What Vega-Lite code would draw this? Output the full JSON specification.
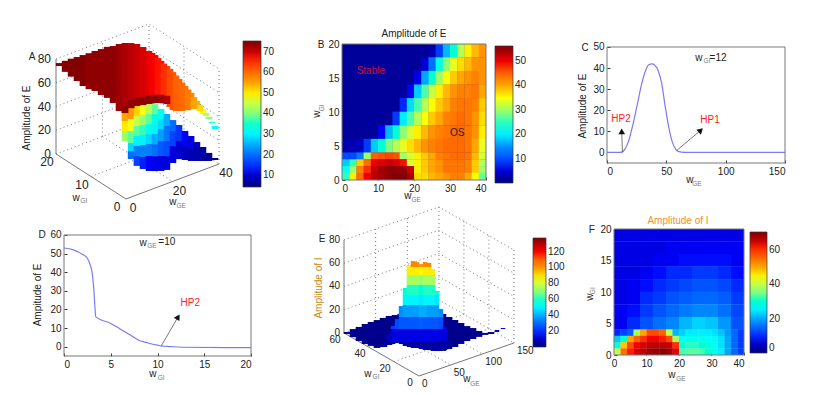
{"$schema":"https://vega.github.io/schema/vega-lite/v6.json","padding":{"left":21,"top":22,"right":0,"bottom":0},"background":"white","bounds":"flush","align":"each","columns":3,"spacing":{"row":49,"column":91},"resolve":{"scale":{"color":"independent"},"legend":{"color":"independent"}},
"config":{"font":"Liberation Sans","view":{"stroke":null},"axis":{"grid":false,"domain":false,"title":null,"tickColor":"#333","tickSize":-3,"labelColor":"#222","labelFontSize":10,"labelPadding":6},"legend":{"labelFontSize":10,"labelOffset":3,"labelColor":"#222","gradientStrokeColor":"#333","gradientStrokeWidth":0.7,"labelOverlap":false,"title":null,"orient":"none","direction":"vertical"}},
"concat":[
{"width":187,"height":136,"data":{"values":[
{"s":1,"g":0,"i":20,"z":0},{"s":1,"g":40,"i":20,"z":0},{"s":1,"g":40,"i":0,"z":0},
{"s":2,"g":0,"i":20,"z":20},{"s":2,"g":40,"i":20,"z":20},{"s":2,"g":40,"i":0,"z":20},
{"s":3,"g":0,"i":20,"z":40},{"s":3,"g":40,"i":20,"z":40},{"s":3,"g":40,"i":0,"z":40},
{"s":4,"g":0,"i":20,"z":60},{"s":4,"g":40,"i":20,"z":60},{"s":4,"g":40,"i":0,"z":60},
{"s":5,"g":0,"i":20,"z":80},{"s":5,"g":40,"i":20,"z":80},{"s":5,"g":40,"i":0,"z":80},
{"s":6,"g":40,"i":20,"z":0},{"s":6,"g":40,"i":20,"z":80},{"s":7,"g":40,"i":0,"z":0},{"s":7,"g":40,"i":0,"z":80},{"s":8,"g":20,"i":20,"z":0},{"s":8,"g":20,"i":20,"z":80},{"s":9,"g":40,"i":10,"z":0},{"s":9,"g":40,"i":10,"z":80},{"s":10,"g":20,"i":0,"z":0},{"s":10,"g":20,"i":20,"z":0},{"s":11,"g":0,"i":10,"z":0},{"s":11,"g":40,"i":10,"z":0},
{"a":1,"g":0,"i":20,"z":0},{"a":1,"g":0,"i":0,"z":0},{"a":1,"g":40,"i":0,"z":0},{"a":2,"g":0,"i":20,"z":0},{"a":2,"g":0,"i":20,"z":80},
{"g":0,"i":0.3,"z":71.8,"z2":65.1,"v":55},{"g":0,"i":0.3,"z":65.1,"z2":56.7,"v":50},{"g":0,"i":0.3,"z":56.7,"z2":48.2,"v":42},
{"g":2.2,"i":0,"z":74.9,"z2":65.7,"v":56},{"g":2.2,"i":0,"z":65.7,"z2":55.6,"v":48},{"g":2.2,"i":0,"z":55.6,"z2":45.5,"v":38},{"g":2.2,"i":0,"z":45.5,"z2":38.7,"v":28},{"g":2.2,"i":0,"z":38.7,"z2":32,"v":20},
{"g":4.7,"i":0,"z":74.9,"z2":66.5,"v":52},{"g":4.7,"i":0,"z":66.5,"z2":58.1,"v":45},{"g":4.7,"i":0,"z":58.1,"z2":49.7,"v":38},{"g":4.7,"i":0,"z":49.7,"z2":41.3,"v":30},{"g":4.7,"i":0,"z":41.3,"z2":32.8,"v":22},{"g":4.7,"i":0,"z":32.8,"z2":24.4,"v":16},
{"g":7.3,"i":0,"z":73.8,"z2":65.3,"v":48},{"g":7.3,"i":0,"z":65.3,"z2":56.9,"v":42},{"g":7.3,"i":0,"z":56.9,"z2":48.5,"v":36},{"g":7.3,"i":0,"z":48.5,"z2":40.1,"v":30},{"g":7.3,"i":0,"z":40.1,"z2":30,"v":22},{"g":7.3,"i":0,"z":30,"z2":19.9,"v":14},
{"g":9.9,"i":0,"z":72.7,"z2":64.2,"v":44},{"g":9.9,"i":0,"z":64.2,"z2":55.8,"v":38},{"g":9.9,"i":0,"z":55.8,"z2":47.4,"v":33},{"g":9.9,"i":0,"z":47.4,"z2":39,"v":28},{"g":9.9,"i":0,"z":39,"z2":28.9,"v":22},{"g":9.9,"i":0,"z":28.9,"z2":16.3,"v":13},
{"g":12.5,"i":0,"z":70.7,"z2":62.3,"v":38},{"g":12.5,"i":0,"z":62.3,"z2":53.9,"v":34},{"g":12.5,"i":0,"z":53.9,"z2":45.5,"v":30},{"g":12.5,"i":0,"z":45.5,"z2":37,"v":25},{"g":12.5,"i":0,"z":37,"z2":26.9,"v":20},{"g":12.5,"i":0,"z":26.9,"z2":14.3,"v":12},
{"g":15.1,"i":0,"z":64.7,"z2":56.2,"v":32},{"g":15.1,"i":0,"z":56.2,"z2":47.8,"v":28},{"g":15.1,"i":0,"z":47.8,"z2":37.7,"v":24},{"g":15.1,"i":0,"z":37.7,"z2":25.1,"v":18},{"g":15.1,"i":0,"z":25.1,"z2":12.5,"v":11},
{"g":17.6,"i":0,"z":58.6,"z2":48.5,"v":25},{"g":17.6,"i":0,"z":48.5,"z2":35.9,"v":21},{"g":17.6,"i":0,"z":35.9,"z2":23.2,"v":17},{"g":17.6,"i":0,"z":23.2,"z2":11.5,"v":11},
{"g":20.2,"i":0,"z":51.6,"z2":42.4,"v":20},{"g":20.2,"i":0,"z":42.4,"z2":29.7,"v":16},{"g":20.2,"i":0,"z":29.7,"z2":15.4,"v":11},
{"g":22.8,"i":0,"z":45.5,"z2":32,"v":15},{"g":22.8,"i":0,"z":32,"z2":16.8,"v":10},
{"g":25.4,"i":0,"z":38.6,"z2":25.9,"v":13},{"g":25.4,"i":0,"z":25.9,"z2":14.1,"v":9},
{"g":28,"i":0,"z":32.4,"z2":21.5,"v":11},{"g":28,"i":0,"z":21.5,"z2":11.4,"v":8},
{"g":30.5,"i":0,"z":25.5,"z2":9.5,"v":8},{"g":33.1,"i":0,"z":19.4,"z2":7.6,"v":7},{"g":35.7,"i":0,"z":12.5,"z2":5.7,"v":6},{"g":38.3,"i":0,"z":6.3,"z2":4.6,"v":5},
{"g":0,"i":19.1,"z":78.3,"z2":75.8,"v":75},{"g":0,"i":17.4,"z":83.4,"z2":74.1,"v":75},{"g":0,"i":15.7,"z":88.4,"z2":73.3,"v":75},{"g":0,"i":14,"z":93,"z2":72.8,"v":75},{"g":0,"i":12.3,"z":97.9,"z2":71.8,"v":75},{"g":0,"i":10.6,"z":102.7,"z2":72.4,"v":74},{"g":0,"i":8.9,"z":107.8,"z2":74.1,"v":74},{"g":0,"i":7.1,"z":112.8,"z2":74.1,"v":74},{"g":0,"i":5.4,"z":117.9,"z2":74.9,"v":74},{"g":0,"i":3.7,"z":121.8,"z2":73.8,"v":74},{"g":0,"i":2,"z":126.7,"z2":70.3,"v":73},{"g":0,"i":0.3,"z":130.8,"z2":71.8,"v":72},
{"g":2.2,"i":0,"z":129.7,"z2":74.9,"v":71},{"g":4.7,"i":0,"z":127.1,"z2":74.9,"v":70},{"g":7.3,"i":0,"z":122.6,"z2":73.8,"v":69},{"g":9.9,"i":0,"z":117.3,"z2":72.7,"v":68},{"g":12.5,"i":0,"z":112,"z2":71.6,"v":67},{"g":15.1,"i":0,"z":105.1,"z2":69.7,"v":66},{"g":17.6,"i":0,"z":99,"z2":67,"v":64},{"g":20.2,"i":0,"z":92,"z2":60,"v":62},{"g":22.8,"i":0,"z":84.2,"z2":57.3,"v":61},{"g":25.4,"i":0,"z":76.5,"z2":56.2,"v":59},{"g":28,"i":0,"z":68.6,"z2":55.1,"v":57},{"g":30.5,"i":0,"z":60,"z2":53.3,"v":54},{"g":33.1,"i":0,"z":51.4,"z2":47.2,"v":48},{"g":35.7,"i":0,"z":42.8,"z2":41.1,"v":40},{"g":38.3,"i":0,"z":33.3,"z2":30.7,"v":31},
{"g":11.2,"i":0,"z":114.7,"z2":72.2,"v":67},{"g":13.8,"i":0,"z":108.5,"z2":70.6,"v":66},{"g":16.3,"i":0,"z":102,"z2":68.4,"v":65},
{"g":18.9,"i":0,"z":95.6,"z2":63.6,"v":63},{"g":21.5,"i":0,"z":88.2,"z2":58.3,"v":61},{"g":24.1,"i":0,"z":80.3,"z2":56.3,"v":60},{"g":26.7,"i":0,"z":72.5,"z2":55.1,"v":58},{"g":29.2,"i":0,"z":64.3,"z2":54.2,"v":55},{"g":31.8,"i":0,"z":55.7,"z2":50.5,"v":51},{"g":34.4,"i":0,"z":47.1,"z2":44.5,"v":44},{"g":37,"i":0,"z":37.6,"z2":36.7,"v":35},
{"g":0,"i":0.3,"z":78.8,"z2":71.8,"v":74},{"g":2.2,"i":0,"z":81.9,"z2":74.9,"v":74},{"g":4.7,"i":0,"z":81.9,"z2":74.9,"v":74},{"g":7.3,"i":0,"z":80.8,"z2":73.8,"v":74},{"g":9.9,"i":0,"z":79.7,"z2":72.7,"v":74},{"g":12.5,"i":0,"z":78.6,"z2":71.6,"v":74},{"g":15.1,"i":0,"z":76.7,"z2":69.7,"v":73},{"g":17.6,"i":0,"z":74,"z2":67,"v":72},
{"k":"z","g":0,"i":20,"z":0,"t":"0"},{"k":"z","g":0,"i":20,"z":20,"t":"20"},{"k":"z","g":0,"i":20,"z":40,"t":"40"},{"k":"z","g":0,"i":20,"z":60,"t":"60"},{"k":"z","g":0,"i":20,"z":80,"t":"80"},
{"k":"j","g":0,"i":0,"z":0,"t":"0"},{"k":"j","g":0,"i":10,"z":0,"t":"10"},{"k":"j","g":0,"i":20,"z":0,"t":"20"},
{"k":"e","g":0,"i":0,"z":0,"t":"0"},{"k":"e","g":20,"i":0,"z":0,"t":"20"},{"k":"e","g":40,"i":0,"z":0,"t":"40"},
{"k":"t","g":-21.5,"i":0,"z":16.7,"t":"w"},{"k":"s","g":-18.1,"i":0,"z":11.6,"t":"GI"},{"k":"t","g":20.2,"i":0,"z":-17.4,"t":"w"},{"k":"s","g":23.7,"i":0,"z":-23.3,"t":"GE"},{"k":"t","g":-40.4,"i":0,"z":149.4,"t":"A"},{"k":"r","g":-42.6,"i":0,"z":99.6,"t":"Amplitude of E"}
]},"transform":[{"calculate":"127+2.325*datum.g-3.5*datum.i","as":"px"},{"calculate":"198-0.875*datum.g-2.25*datum.i-1.1875*datum.z","as":"py"},{"calculate":"198-0.875*datum.g-2.25*datum.i-1.1875*datum.z2","as":"py2"}],
"encoding":{"x":{"field":"px","type":"quantitative","scale":{"domain":[65,252],"nice":false},"axis":null},"y":{"field":"py","type":"quantitative","scale":{"domain":[179,43],"nice":false},"axis":null}},
"layer":[
{"transform":[{"filter":"datum.s"}],"mark":{"type":"line","color":"#666","strokeWidth":0.9,"strokeDash":[1,3]},"encoding":{"detail":{"field":"s"}}},
{"transform":[{"filter":"datum.a"}],"mark":{"type":"line","color":"#777","strokeWidth":1},"encoding":{"detail":{"field":"a"}}},
{"transform":[{"filter":"datum.v"}],"mark":{"type":"rule","strokeWidth":6.6},"encoding":{"y2":{"field":"py2"},"color":{"field":"v","type":"quantitative","scale":{"domain":[4.3,13.16,22.03,30.89,39.75,48.61,57.48,66.34,75.2],"range":["#00007f","#0000ff","#007fff","#00ffff","#7fff7f","#ffff00","#ff7f00","#ff0000","#7f0000"]},"legend":{"type":"gradient","legendX":179,"legendY":-3,"gradientLength":146,"gradientThickness":18,"values":[10,20,30,40,50,60,70]}}}},
{"transform":[{"filter":"datum.k=='z'"}],"mark":{"type":"text","fontSize":12,"color":"#222","align":"right","dx":-5},"encoding":{"text":{"field":"t"}}},
{"transform":[{"filter":"datum.k=='j'"}],"mark":{"type":"text","fontSize":12,"color":"#222","dx":-9,"dy":8},"encoding":{"text":{"field":"t"}}},
{"transform":[{"filter":"datum.k=='e'"}],"mark":{"type":"text","fontSize":12,"color":"#222","dx":7,"dy":9},"encoding":{"text":{"field":"t"}}},
{"transform":[{"filter":"datum.k=='t'"}],"mark":{"type":"text","fontSize":10,"color":"#222"},"encoding":{"text":{"field":"t"}}},
{"transform":[{"filter":"datum.k=='s'"}],"mark":{"type":"text","fontSize":6.5,"color":"#777"},"encoding":{"text":{"field":"t"}}},
{"transform":[{"filter":"datum.k=='r'"}],"mark":{"type":"text","fontSize":10,"color":"#222","angle":270},"encoding":{"text":{"field":"t"}}}
]},
{"width":144,"height":136,"data":{"values":[
{"k":"b","x":0,"x2":40,"y":0,"y2":20},
{"x":24,"y":18,"v":3},{"x":26,"y":18,"v":9},{"x":28,"y":18,"v":17},{"x":30,"y":18,"v":24},{"x":32,"y":18,"v":31},{"x":34,"y":18,"v":36},{"x":36,"y":18,"v":39},{"x":38,"y":18,"v":41},
{"x":22,"y":16,"v":5},{"x":24,"y":16,"v":13},{"x":26,"y":16,"v":23},{"x":28,"y":16,"v":29},{"x":30,"y":16,"v":34},{"x":32,"y":16,"v":37},{"x":34,"y":16,"v":39},{"x":36,"y":16,"v":41},{"x":38,"y":16,"v":41},
{"x":20,"y":14,"v":6},{"x":22,"y":14,"v":16},{"x":24,"y":14,"v":24},{"x":26,"y":14,"v":30},{"x":28,"y":14,"v":35},{"x":30,"y":14,"v":38},{"x":32,"y":14,"v":40},{"x":34,"y":14,"v":41},{"x":36,"y":14,"v":42},{"x":38,"y":14,"v":41},
{"x":18,"y":12,"v":7},{"x":20,"y":12,"v":18},{"x":22,"y":12,"v":26},{"x":24,"y":12,"v":32},{"x":26,"y":12,"v":36},{"x":28,"y":12,"v":39},{"x":30,"y":12,"v":41},{"x":32,"y":12,"v":42},{"x":34,"y":12,"v":42},{"x":36,"y":12,"v":43},{"x":38,"y":12,"v":40},
{"x":16,"y":10,"v":8},{"x":18,"y":10,"v":19},{"x":20,"y":10,"v":26},{"x":22,"y":10,"v":31},{"x":24,"y":10,"v":35},{"x":26,"y":10,"v":38},{"x":28,"y":10,"v":40},{"x":30,"y":10,"v":42},{"x":32,"y":10,"v":43},{"x":34,"y":10,"v":43},{"x":36,"y":10,"v":42},{"x":38,"y":10,"v":38},
{"x":14,"y":8,"v":9},{"x":16,"y":8,"v":20},{"x":18,"y":8,"v":26},{"x":20,"y":8,"v":31},{"x":22,"y":8,"v":35},{"x":24,"y":8,"v":38},{"x":26,"y":8,"v":40},{"x":28,"y":8,"v":42},{"x":30,"y":8,"v":43},{"x":32,"y":8,"v":44},{"x":34,"y":8,"v":43},{"x":36,"y":8,"v":41},{"x":38,"y":8,"v":37},
{"x":10,"y":6,"v":7},{"x":12,"y":6,"v":17},{"x":14,"y":6,"v":24},{"x":16,"y":6,"v":29},{"x":18,"y":6,"v":33},{"x":20,"y":6,"v":36},{"x":22,"y":6,"v":39},{"x":24,"y":6,"v":41},{"x":26,"y":6,"v":42},{"x":28,"y":6,"v":43},{"x":30,"y":6,"v":44},{"x":32,"y":6,"v":44},{"x":34,"y":6,"v":43},{"x":36,"y":6,"v":41},{"x":38,"y":6,"v":36},
{"x":0,"y":4,"v":3},{"x":2,"y":4,"v":3},{"x":4,"y":4,"v":4},{"x":6,"y":4,"v":9},{"x":8,"y":4,"v":18},{"x":10,"y":4,"v":24},{"x":12,"y":4,"v":28},{"x":14,"y":4,"v":31},{"x":16,"y":4,"v":34},{"x":18,"y":4,"v":37},{"x":20,"y":4,"v":39},{"x":22,"y":4,"v":41},{"x":24,"y":4,"v":42},{"x":26,"y":4,"v":43},{"x":28,"y":4,"v":44},{"x":30,"y":4,"v":44},{"x":32,"y":4,"v":44},{"x":34,"y":4,"v":43},{"x":36,"y":4,"v":40},{"x":38,"y":4,"v":34},
{"x":0,"y":3,"v":10},{"x":2,"y":3,"v":10},{"x":4,"y":3,"v":14},{"x":6,"y":3,"v":30},{"x":8,"y":3,"v":45},{"x":10,"y":3,"v":46},{"x":12,"y":3,"v":47},{"x":14,"y":3,"v":46},{"x":16,"y":3,"v":30},{"x":18,"y":3,"v":33},{"x":20,"y":3,"v":36},{"x":22,"y":3,"v":38},{"x":24,"y":3,"v":40},{"x":26,"y":3,"v":42},{"x":28,"y":3,"v":43},{"x":30,"y":3,"v":44},{"x":32,"y":3,"v":44},{"x":34,"y":3,"v":43},{"x":36,"y":3,"v":39},{"x":38,"y":3,"v":33},
{"x":0,"y":2,"v":18},{"x":2,"y":2,"v":25},{"x":4,"y":2,"v":38},{"x":6,"y":2,"v":44},{"x":8,"y":2,"v":50},{"x":10,"y":2,"v":51},{"x":12,"y":2,"v":52},{"x":14,"y":2,"v":51},{"x":16,"y":2,"v":49},{"x":18,"y":2,"v":33},{"x":20,"y":2,"v":36},{"x":22,"y":2,"v":38},{"x":24,"y":2,"v":40},{"x":26,"y":2,"v":41},{"x":28,"y":2,"v":43},{"x":30,"y":2,"v":43},{"x":32,"y":2,"v":43},{"x":34,"y":2,"v":42},{"x":36,"y":2,"v":38},{"x":38,"y":2,"v":31},
{"x":0,"y":1,"v":22},{"x":2,"y":1,"v":30},{"x":4,"y":1,"v":42},{"x":6,"y":1,"v":48},{"x":8,"y":1,"v":52},{"x":10,"y":1,"v":54},{"x":12,"y":1,"v":55},{"x":14,"y":1,"v":55},{"x":16,"y":1,"v":55},{"x":18,"y":1,"v":52},{"x":20,"y":1,"v":36},{"x":22,"y":1,"v":38},{"x":24,"y":1,"v":40},{"x":26,"y":1,"v":41},{"x":28,"y":1,"v":43},{"x":30,"y":1,"v":43},{"x":32,"y":1,"v":43},{"x":34,"y":1,"v":42},{"x":36,"y":1,"v":38},{"x":38,"y":1,"v":30},
{"x":0,"y":0,"v":25},{"x":2,"y":0,"v":36},{"x":4,"y":0,"v":44},{"x":6,"y":0,"v":50},{"x":8,"y":0,"v":53},{"x":10,"y":0,"v":54},{"x":12,"y":0,"v":55},{"x":14,"y":0,"v":56},{"x":16,"y":0,"v":56},{"x":18,"y":0,"v":54},{"x":20,"y":0,"v":37},{"x":22,"y":0,"v":37},{"x":24,"y":0,"v":39},{"x":26,"y":0,"v":40},{"x":28,"y":0,"v":41},{"x":30,"y":0,"v":42},{"x":32,"y":0,"v":42},{"x":34,"y":0,"v":40},{"x":36,"y":0,"v":35},{"x":38,"y":0,"v":27},
{"k":"t","x":-5.8,"y":19.85,"t":"B"},{"k":"t","x":20,"y":21.5,"t":"Amplitude of E"},{"k":"t","x":32,"y":6.9,"t":"OS"},{"k":"c","x":8,"y":16,"t":"Stable"},{"k":"t","x":18.3,"y":-2.35,"t":"w"},{"k":"s","x":20.6,"y":-2.94,"t":"GE"},{"k":"r","x":-6.9,"y":9.7,"t":"w"},{"k":"q","x":-5.6,"y":10.6,"t":"GI"}
]},"encoding":{"x":{"field":"x","type":"quantitative","scale":{"domain":[0,40],"nice":false},"axis":{"values":[0,10,20,30,40]}},"y":{"field":"y","type":"quantitative","scale":{"domain":[0,20],"nice":false},"axis":{"values":[0,5,10,15,20]}}},
"layer":[
{"transform":[{"filter":"datum.k=='b'"}],"mark":{"type":"rect","color":"#00009a"},"encoding":{"x2":{"field":"x2"},"y2":{"field":"y2"}}},
{"transform":[{"filter":"datum.v"},{"calculate":"min(datum.x+2.1,40)","as":"x2"},{"calculate":"min(datum.y<4?datum.y+1.05:datum.y+2.05,20)","as":"y2"}],"mark":{"type":"rect"},"encoding":{"x2":{"field":"x2"},"y2":{"field":"y2"},"color":{"field":"v","type":"quantitative","scale":{"domain":[0.2,7.19,14.18,21.16,28.15,35.14,42.13,49.11,56.1],"range":["#00007f","#0000ff","#007fff","#00ffff","#7fff7f","#ffff00","#ff7f00","#ff0000","#7f0000"]},"legend":{"type":"gradient","legendX":153,"legendY":2,"gradientLength":137,"gradientThickness":18,"values":[10,20,30,40,50]}}}},
{"transform":[{"filter":"datum.k=='b'"}],"mark":{"type":"rect","filled":false,"stroke":"#777"},"encoding":{"x2":{"field":"x2"},"y2":{"field":"y2"}}},
{"transform":[{"filter":"datum.k=='t'"}],"mark":{"type":"text","fontSize":10,"color":"#222"},"encoding":{"text":{"field":"t"}}},
{"transform":[{"filter":"datum.k=='c'"}],"mark":{"type":"text","fontSize":10,"color":"#c8102e"},"encoding":{"text":{"field":"t"}}},
{"transform":[{"filter":"datum.k=='s'"}],"mark":{"type":"text","fontSize":6.5,"color":"#777"},"encoding":{"text":{"field":"t"}}},
{"transform":[{"filter":"datum.k=='r'"}],"mark":{"type":"text","fontSize":10,"color":"#222","angle":270},"encoding":{"text":{"field":"t"}}},
{"transform":[{"filter":"datum.k=='q'"}],"mark":{"type":"text","fontSize":6.5,"color":"#777","angle":270},"encoding":{"text":{"field":"t"}}}
]},
{"width":178,"height":119,"data":{"values":[
{"k":"b","x":0,"x2":150,"y":-5,"y2":50},
{"k":"l","x":0,"y":0},{"k":"l","x":10,"y":0},{"k":"l","x":13,"y":0.3},{"k":"l","x":15,"y":1.5},{"k":"l","x":18,"y":5},{"k":"l","x":20,"y":9},{"k":"l","x":23,"y":16},{"k":"l","x":26,"y":24},{"k":"l","x":29,"y":32},{"k":"l","x":32,"y":38},{"k":"l","x":35,"y":41.5},{"k":"l","x":38,"y":42},{"k":"l","x":40,"y":41.5},{"k":"l","x":43,"y":39},{"k":"l","x":46,"y":33},{"k":"l","x":49,"y":22},{"k":"l","x":52,"y":12},{"k":"l","x":55,"y":5},{"k":"l","x":58,"y":1.5},{"k":"l","x":60,"y":0.5},{"k":"l","x":65,"y":0},{"k":"l","x":150,"y":0},
{"k":"a","x":13,"y":0,"x2":12.4,"y2":10},{"k":"a","x":58.7,"y":0.9,"x2":79,"y2":10.5},
{"k":"h","x":12.4,"y":10,"a":0},{"k":"h","x":79,"y":10.5,"a":47},
{"k":"c","x":11.8,"y":15.9,"t":"HP2"},{"k":"c","x":86.8,"y":15.4,"t":"HP1"},
{"k":"t","x":-18.5,"y":49.5,"t":"C"},{"k":"t","x":77.5,"y":44.8,"t":"w"},{"k":"s","x":84.3,"y":43.4,"t":"GI"},{"k":"t","x":93.6,"y":44.8,"t":"=12"},{"k":"t","x":69.9,"y":-13,"t":"w"},{"k":"s","x":75.8,"y":-14.9,"t":"GE"},{"k":"r","x":-20.2,"y":22,"t":"Amplitude of E"}
]},"encoding":{"x":{"field":"x","type":"quantitative","scale":{"domain":[0,150],"nice":false},"axis":{"values":[0,50,100,150]}},"y":{"field":"y","type":"quantitative","scale":{"domain":[-5,51.42],"nice":false},"axis":{"values":[0,10,20,30,40,50]}}},
"layer":[
{"transform":[{"filter":"datum.k=='l'"}],"mark":{"type":"line","color":"#7a7af5","strokeWidth":1.2,"interpolate":"monotone"}},
{"transform":[{"filter":"datum.k=='a'"}],"mark":{"type":"rule","color":"#555","strokeWidth":0.8},"encoding":{"x2":{"field":"x2"},"y2":{"field":"y2"}}},
{"transform":[{"filter":"datum.k=='h'"}],"mark":{"type":"point","shape":"triangle-up","filled":true,"color":"#111","size":45,"opacity":1},"encoding":{"angle":{"field":"a","type":"quantitative","scale":null}}},
{"transform":[{"filter":"datum.k=='b'"}],"mark":{"type":"rect","filled":false,"stroke":"#777"},"encoding":{"x2":{"field":"x2"},"y2":{"field":"y2"}}},
{"transform":[{"filter":"datum.k=='t'"}],"mark":{"type":"text","fontSize":10,"color":"#222"},"encoding":{"text":{"field":"t"}}},
{"transform":[{"filter":"datum.k=='c'"}],"mark":{"type":"text","fontSize":10,"color":"#ff2020"},"encoding":{"text":{"field":"t"}}},
{"transform":[{"filter":"datum.k=='s'"}],"mark":{"type":"text","fontSize":6.5,"color":"#777"},"encoding":{"text":{"field":"t"}}},
{"transform":[{"filter":"datum.k=='r'"}],"mark":{"type":"text","fontSize":10,"color":"#222","angle":270},"encoding":{"text":{"field":"t"}}}
]},
{"width":187,"height":127,"data":{"values":[
{"k":"b","x":0,"x2":20,"y":-5,"y2":60},
{"k":"l","x":0,"y":53},{"k":"l","x":1,"y":52},{"k":"l","x":2,"y":49.5},{"k":"l","x":2.5,"y":47.5},{"k":"l","x":2.8,"y":44},{"k":"l","x":3,"y":40},{"k":"l","x":3.2,"y":30},{"k":"l","x":3.3,"y":22},{"k":"l","x":3.4,"y":16},{"k":"l","x":5,"y":12.5},{"k":"l","x":6,"y":9.5},{"k":"l","x":7,"y":6.5},{"k":"l","x":8,"y":3.5},{"k":"l","x":9,"y":2},{"k":"l","x":10,"y":0.8},{"k":"l","x":10.5,"y":0.3},{"k":"l","x":11,"y":0.2},{"k":"l","x":13,"y":-0.3},{"k":"l","x":20,"y":-0.5},
{"k":"a","x":10.4,"y":0.4,"x2":12.2,"y2":16},{"k":"h","x":12.2,"y":16,"a":31},
{"k":"c","x":13.5,"y":23.5,"t":"HP2"},
{"k":"t","x":-2.35,"y":60,"t":"D"},{"k":"t","x":8.45,"y":55.7,"t":"w"},{"k":"s","x":9.4,"y":54.1,"t":"GE"},{"k":"t","x":11,"y":56.2,"t":"=10"},{"k":"t","x":9.5,"y":-14.7,"t":"w"},{"k":"s","x":10.4,"y":-16.8,"t":"GI"},{"k":"r","x":-2.8,"y":27.8,"t":"Ampitude of E"}
]},"encoding":{"x":{"field":"x","type":"quantitative","scale":{"domain":[0,20],"nice":false},"axis":{"values":[0,5,10,15,20]}},"y":{"field":"y","type":"quantitative","scale":{"domain":[-5,63.22],"nice":false},"axis":{"values":[0,10,20,30,40,50,60]}}},
"layer":[
{"transform":[{"filter":"datum.k=='l'"}],"mark":{"type":"line","color":"#7a7af5","strokeWidth":1.2,"interpolate":"monotone"}},
{"transform":[{"filter":"datum.k=='a'"}],"mark":{"type":"rule","color":"#555","strokeWidth":0.8},"encoding":{"x2":{"field":"x2"},"y2":{"field":"y2"}}},
{"transform":[{"filter":"datum.k=='h'"}],"mark":{"type":"point","shape":"triangle-up","filled":true,"color":"#111","size":45,"opacity":1},"encoding":{"angle":{"field":"a","type":"quantitative","scale":null}}},
{"transform":[{"filter":"datum.k=='b'"}],"mark":{"type":"rect","filled":false,"stroke":"#777"},"encoding":{"x2":{"field":"x2"},"y2":{"field":"y2"}}},
{"transform":[{"filter":"datum.k=='t'"}],"mark":{"type":"text","fontSize":10,"color":"#222"},"encoding":{"text":{"field":"t"}}},
{"transform":[{"filter":"datum.k=='c'"}],"mark":{"type":"text","fontSize":10,"color":"#ff2020"},"encoding":{"text":{"field":"t"}}},
{"transform":[{"filter":"datum.k=='s'"}],"mark":{"type":"text","fontSize":6.5,"color":"#777"},"encoding":{"text":{"field":"t"}}},
{"transform":[{"filter":"datum.k=='r'"}],"mark":{"type":"text","fontSize":10,"color":"#222","angle":270},"encoding":{"text":{"field":"t"}}}
]},
{"width":174,"height":120,"data":{"values":[
{"s":1,"g":0,"i":60,"z":0},{"s":1,"g":150,"i":60,"z":0},{"s":1,"g":150,"i":0,"z":0},
{"s":2,"g":0,"i":60,"z":20},{"s":2,"g":150,"i":60,"z":20},{"s":2,"g":150,"i":0,"z":20},
{"s":3,"g":0,"i":60,"z":40},{"s":3,"g":150,"i":60,"z":40},{"s":3,"g":150,"i":0,"z":40},
{"s":4,"g":0,"i":60,"z":60},{"s":4,"g":150,"i":60,"z":60},{"s":4,"g":150,"i":0,"z":60},
{"s":5,"g":0,"i":60,"z":80},{"s":5,"g":150,"i":60,"z":80},{"s":5,"g":150,"i":0,"z":80},
{"s":6,"g":50,"i":60,"z":0},{"s":6,"g":50,"i":60,"z":80},{"s":7,"g":100,"i":60,"z":0},{"s":7,"g":100,"i":60,"z":80},{"s":8,"g":150,"i":60,"z":0},{"s":8,"g":150,"i":60,"z":80},{"s":9,"g":150,"i":40,"z":0},{"s":9,"g":150,"i":40,"z":80},{"s":10,"g":150,"i":20,"z":0},{"s":10,"g":150,"i":20,"z":80},{"s":11,"g":150,"i":0,"z":0},{"s":11,"g":150,"i":0,"z":80},
{"s":12,"g":50,"i":0,"z":0},{"s":12,"g":50,"i":60,"z":0},{"s":13,"g":100,"i":0,"z":0},{"s":13,"g":100,"i":60,"z":0},{"s":14,"g":0,"i":20,"z":0},{"s":14,"g":150,"i":20,"z":0},{"s":15,"g":0,"i":40,"z":0},{"s":15,"g":150,"i":40,"z":0},
{"a":1,"g":0,"i":60,"z":0},{"a":1,"g":0,"i":0,"z":0},{"a":1,"g":150,"i":0,"z":0},{"a":2,"g":0,"i":60,"z":0},{"a":2,"g":0,"i":60,"z":80},
{"k":"p","g":0,"i":57.6,"z":2.3,"z2":0.6},{"k":"p","g":0,"i":52.8,"z":7.8,"z2":0.9},{"k":"p","g":0,"i":48,"z":12.6,"z2":0.5},{"k":"p","g":0,"i":43.2,"z":18.1,"z2":0.9},{"k":"p","g":0,"i":38.4,"z":22.8,"z2":2.2},{"k":"p","g":0,"i":33.6,"z":27.4,"z2":3.4},{"k":"p","g":0,"i":28.8,"z":32.2,"z2":7.2},{"k":"p","g":0,"i":24,"z":36.8,"z2":11.9},{"k":"p","g":0,"i":19.2,"z":40.6,"z2":16.5},{"k":"p","g":0,"i":14.4,"z":44.5,"z2":20.4},{"k":"p","g":0,"i":9.6,"z":47.4,"z2":21.6},{"k":"p","g":0,"i":4.8,"z":50.4,"z2":22.9},{"k":"p","g":0,"i":0,"z":53.3,"z2":24.1},
{"k":"p","g":9.5,"i":0,"z":51.5,"z2":21.4},{"k":"p","g":19,"i":0,"z":49.7,"z2":18.7},{"k":"p","g":28.4,"i":0,"z":47.9,"z2":16.1},{"k":"p","g":37.9,"i":0,"z":46.2,"z2":14.4},{"k":"p","g":47.4,"i":0,"z":41.8,"z2":14.3},{"k":"p","g":56.9,"i":0,"z":37.4,"z2":14.2},{"k":"p","g":66.4,"i":0,"z":33,"z2":15},{"k":"p","g":75.8,"i":0,"z":28.6,"z2":15.7},{"k":"p","g":85.3,"i":0,"z":25.1,"z2":15.7},{"k":"p","g":94.8,"i":0,"z":20.8,"z2":15.7},{"k":"p","g":104.3,"i":0,"z":17.3,"z2":15.6},{"k":"p","g":113.7,"i":0,"z":16.3,"z2":14.6},
{"g":123.2,"i":0,"z":16.3,"z2":14.5,"v":12},{"g":132.7,"i":0,"z":16.2,"z2":15.3,"v":16},
{"g":9.4,"i":32,"z":7.7,"z2":3.4,"v":6},
{"g":13.4,"i":30.75,"z":14.6,"z2":8.6,"v":10},{"g":13.4,"i":30.75,"z":8.6,"z2":5.2,"v":5},
{"g":17.4,"i":29.5,"z":21.5,"z2":18.9,"v":22},{"g":17.4,"i":29.5,"z":18.9,"z2":8.6,"v":13},{"g":17.4,"i":29.5,"z":8.6,"z2":6,"v":5},
{"g":21.3,"i":28.3,"z":27.5,"z2":18.9,"v":24},{"g":21.3,"i":28.3,"z":18.9,"z2":8.6,"v":13},{"g":21.3,"i":28.3,"z":8.6,"z2":6.9,"v":5},
{"g":25.2,"i":27.1,"z":38.7,"z2":29.2,"v":36},{"g":25.2,"i":27.1,"z":29.2,"z2":18.9,"v":26},{"g":25.2,"i":27.1,"z":18.9,"z2":8.6,"v":14},{"g":25.2,"i":27.1,"z":8.6,"z2":6,"v":5},
{"g":29.1,"i":25.9,"z":54.2,"z2":48.2,"v":58},{"g":29.1,"i":25.9,"z":48.2,"z2":39.6,"v":50},{"g":29.1,"i":25.9,"z":39.6,"z2":29.2,"v":38},{"g":29.1,"i":25.9,"z":29.2,"z2":18.9,"v":26},{"g":29.1,"i":25.9,"z":18.9,"z2":8.6,"v":14},{"g":29.1,"i":25.9,"z":8.6,"z2":4.3,"v":5},
{"g":33.1,"i":24.7,"z":74,"z2":65.4,"v":88},{"g":33.1,"i":24.7,"z":65.4,"z2":56.8,"v":74},{"g":33.1,"i":24.7,"z":56.8,"z2":48.2,"v":60},{"g":33.1,"i":24.7,"z":48.2,"z2":39.6,"v":50},{"g":33.1,"i":24.7,"z":39.6,"z2":29.2,"v":38},{"g":33.1,"i":24.7,"z":29.2,"z2":18.9,"v":26},{"g":33.1,"i":24.7,"z":18.9,"z2":8.6,"v":14},{"g":33.1,"i":24.7,"z":8.6,"z2":3.4,"v":5},
{"g":37,"i":23.5,"z":77.4,"z2":72.2,"v":102},{"g":37,"i":23.5,"z":72.2,"z2":65.4,"v":88},{"g":37,"i":23.5,"z":65.4,"z2":56.8,"v":74},{"g":37,"i":23.5,"z":56.8,"z2":48.2,"v":60},{"g":37,"i":23.5,"z":48.2,"z2":39.6,"v":50},{"g":37,"i":23.5,"z":39.6,"z2":29.2,"v":38},{"g":37,"i":23.5,"z":29.2,"z2":18.9,"v":26},{"g":37,"i":23.5,"z":18.9,"z2":8.6,"v":14},{"g":37,"i":23.5,"z":8.6,"z2":2.6,"v":5},
{"g":40.9,"i":22.3,"z":76.5,"z2":72.2,"v":102},{"g":40.9,"i":22.3,"z":72.2,"z2":65.4,"v":88},{"g":40.9,"i":22.3,"z":65.4,"z2":56.8,"v":74},{"g":40.9,"i":22.3,"z":56.8,"z2":48.2,"v":60},{"g":40.9,"i":22.3,"z":48.2,"z2":39.6,"v":50},{"g":40.9,"i":22.3,"z":39.6,"z2":29.2,"v":38},{"g":40.9,"i":22.3,"z":29.2,"z2":18.9,"v":26},{"g":40.9,"i":22.3,"z":18.9,"z2":8.6,"v":14},{"g":40.9,"i":22.3,"z":8.6,"z2":2.6,"v":5},
{"g":44.8,"i":21.1,"z":74.8,"z2":72.2,"v":100},{"g":44.8,"i":21.1,"z":72.2,"z2":65.4,"v":86},{"g":44.8,"i":21.1,"z":65.4,"z2":56.8,"v":72},{"g":44.8,"i":21.1,"z":56.8,"z2":48.2,"v":58},{"g":44.8,"i":21.1,"z":48.2,"z2":39.6,"v":48},{"g":44.8,"i":21.1,"z":39.6,"z2":29.2,"v":40},{"g":44.8,"i":21.1,"z":29.2,"z2":18.9,"v":28},{"g":44.8,"i":21.1,"z":18.9,"z2":8.6,"v":14},{"g":44.8,"i":21.1,"z":8.6,"z2":1.7,"v":5},
{"g":48.8,"i":19.9,"z":76.5,"z2":72.2,"v":102},{"g":48.8,"i":19.9,"z":72.2,"z2":65.4,"v":88},{"g":48.8,"i":19.9,"z":65.4,"z2":56.8,"v":74},{"g":48.8,"i":19.9,"z":56.8,"z2":48.2,"v":60},{"g":48.8,"i":19.9,"z":48.2,"z2":39.6,"v":50},{"g":48.8,"i":19.9,"z":39.6,"z2":29.2,"v":40},{"g":48.8,"i":19.9,"z":29.2,"z2":18.9,"v":26},{"g":48.8,"i":19.9,"z":18.9,"z2":8.6,"v":14},{"g":48.8,"i":19.9,"z":8.6,"z2":0.9,"v":5},
{"g":52.7,"i":18.7,"z":75.7,"z2":72.2,"v":102},{"g":52.7,"i":18.7,"z":72.2,"z2":65.4,"v":88},{"g":52.7,"i":18.7,"z":65.4,"z2":56.8,"v":74},{"g":52.7,"i":18.7,"z":56.8,"z2":48.2,"v":60},{"g":52.7,"i":18.7,"z":48.2,"z2":39.6,"v":50},{"g":52.7,"i":18.7,"z":39.6,"z2":29.2,"v":38},{"g":52.7,"i":18.7,"z":29.2,"z2":18.9,"v":26},{"g":52.7,"i":18.7,"z":18.9,"z2":8.6,"v":14},{"g":52.7,"i":18.7,"z":8.6,"z2":0.9,"v":5},
{"g":56.6,"i":17.5,"z":70.5,"z2":65.4,"v":88},{"g":56.6,"i":17.5,"z":65.4,"z2":56.8,"v":74},{"g":56.6,"i":17.5,"z":56.8,"z2":48.2,"v":60},{"g":56.6,"i":17.5,"z":48.2,"z2":39.6,"v":50},{"g":56.6,"i":17.5,"z":39.6,"z2":29.2,"v":38},{"g":56.6,"i":17.5,"z":29.2,"z2":18.9,"v":26},{"g":56.6,"i":17.5,"z":18.9,"z2":8.6,"v":14},{"g":56.6,"i":17.5,"z":8.6,"z2":0,"v":5},
{"g":60.5,"i":16.3,"z":51.6,"z2":48.2,"v":56},{"g":60.5,"i":16.3,"z":48.2,"z2":39.6,"v":48},{"g":60.5,"i":16.3,"z":39.6,"z2":29.2,"v":38},{"g":60.5,"i":16.3,"z":29.2,"z2":18.9,"v":26},{"g":60.5,"i":16.3,"z":18.9,"z2":8.6,"v":14},{"g":60.5,"i":16.3,"z":8.6,"z2":0,"v":5},
{"g":64.4,"i":15.1,"z":36.1,"z2":29.2,"v":36},{"g":64.4,"i":15.1,"z":29.2,"z2":18.9,"v":24},{"g":64.4,"i":15.1,"z":18.9,"z2":8.6,"v":13},{"g":64.4,"i":15.1,"z":8.6,"z2":0,"v":5},
{"g":68.4,"i":13.8,"z":20.6,"z2":8.6,"v":13},{"g":68.4,"i":13.8,"z":8.6,"z2":0.9,"v":5},
{"g":72.3,"i":12.6,"z":7.7,"z2":1.7,"v":5},
{"k":"z","g":0,"i":60,"z":0,"t":"0"},{"k":"z","g":0,"i":60,"z":20,"t":"20"},{"k":"z","g":0,"i":60,"z":40,"t":"40"},{"k":"z","g":0,"i":60,"z":60,"t":"60"},{"k":"z","g":0,"i":60,"z":80,"t":"80"},
{"k":"j","g":0,"i":0,"z":0,"t":"0"},{"k":"j","g":0,"i":20,"z":0,"t":"20"},{"k":"j","g":0,"i":40,"z":0,"t":"40"},{"k":"j","g":0,"i":60,"z":0,"t":"60"},
{"k":"e","g":0,"i":0,"z":0,"t":"0"},{"k":"e","g":50,"i":0,"z":0,"t":"50"},{"k":"e","g":100,"i":0,"z":0,"t":"100"},{"k":"e","g":150,"i":0,"z":0,"t":"150"},
{"k":"t","g":-80.6,"i":0,"z":16.9,"t":"w"},{"k":"s","g":-67.9,"i":0,"z":12,"t":"GI"},{"k":"t","g":75.8,"i":0,"z":-16.9,"t":"w"},{"k":"s","g":88.5,"i":0,"z":-23.6,"t":"GE"},{"k":"t","g":-153.2,"i":0,"z":146.8,"t":"E"},{"k":"r","g":-158,"i":0,"z":105.6,"t":"Amplitude of I"}
]},"transform":[{"calculate":"420+0.633*datum.g-1.25*datum.i","as":"px"},{"calculate":"375-0.22*datum.g-0.717*datum.i-1.1625*datum.z","as":"py"},{"calculate":"375-0.22*datum.g-0.717*datum.i-1.1625*datum.z2","as":"py2"}],
"encoding":{"x":{"field":"px","type":"quantitative","scale":{"domain":[343,517],"nice":false},"axis":null},"y":{"field":"py","type":"quantitative","scale":{"domain":[348,228],"nice":false},"axis":null}},
"layer":[
{"transform":[{"filter":"datum.s"}],"mark":{"type":"line","color":"#666","strokeWidth":0.9,"strokeDash":[1,3]},"encoding":{"detail":{"field":"s"}}},
{"transform":[{"filter":"datum.a"}],"mark":{"type":"line","color":"#777","strokeWidth":1},"encoding":{"detail":{"field":"a"}}},
{"transform":[{"filter":"datum.k=='p'"}],"mark":{"type":"rule","strokeWidth":6.6,"color":"#00008c"},"encoding":{"y2":{"field":"py2"}}},
{"transform":[{"filter":"datum.v"}],"mark":{"type":"rule","strokeWidth":4.6},"encoding":{"y2":{"field":"py2"},"color":{"field":"v","type":"quantitative","scale":{"domain":[0,17.125,34.25,51.375,68.5,85.625,102.75,119.875,137],"range":["#00007f","#0000ff","#007fff","#00ffff","#7fff7f","#ffff00","#ff7f00","#ff0000","#7f0000"]},"legend":{"type":"gradient","legendX":191,"legendY":9,"gradientLength":109,"gradientThickness":13,"values":[20,40,60,80,100,120]}}}},
{"transform":[{"filter":"datum.k=='z'"}],"mark":{"type":"text","fontSize":10,"color":"#222","align":"right","dx":-4},"encoding":{"text":{"field":"t"}}},
{"transform":[{"filter":"datum.k=='j'"}],"mark":{"type":"text","fontSize":10,"color":"#222","dx":-9,"dy":7},"encoding":{"text":{"field":"t"}}},
{"transform":[{"filter":"datum.k=='e'"}],"mark":{"type":"text","fontSize":10,"color":"#222","align":"left","dx":3,"dy":8},"encoding":{"text":{"field":"t"}}},
{"transform":[{"filter":"datum.k=='t'"}],"mark":{"type":"text","fontSize":10,"color":"#222"},"encoding":{"text":{"field":"t"}}},
{"transform":[{"filter":"datum.k=='s'"}],"mark":{"type":"text","fontSize":6.5,"color":"#777"},"encoding":{"text":{"field":"t"}}},
{"transform":[{"filter":"datum.k=='r'"}],"mark":{"type":"text","fontSize":10,"color":"#c88a10","angle":270},"encoding":{"text":{"field":"t"}}}
]},
{"width":137,"height":126,"data":{"values":[
{"k":"b","x":0,"x2":40,"y":0,"y2":20},
{"x":0,"y":18,"v":7},{"x":4,"y":18,"v":7},{"x":8,"y":18,"v":7},{"x":12,"y":18,"v":7},{"x":16,"y":18,"v":7},{"x":20,"y":18,"v":7},{"x":24,"y":18,"v":7},{"x":28,"y":18,"v":7},{"x":32,"y":18,"v":7},{"x":36,"y":18,"v":7},
{"x":0,"y":16,"v":7},{"x":4,"y":16,"v":7},{"x":8,"y":16,"v":7},{"x":12,"y":16,"v":7},{"x":16,"y":16,"v":8},{"x":20,"y":16,"v":8},{"x":24,"y":16,"v":8},{"x":28,"y":16,"v":8},{"x":32,"y":16,"v":8},{"x":36,"y":16,"v":8},
{"x":0,"y":14,"v":7},{"x":4,"y":14,"v":7},{"x":8,"y":14,"v":7},{"x":12,"y":14,"v":8},{"x":16,"y":14,"v":8},{"x":20,"y":14,"v":9},{"x":24,"y":14,"v":9},{"x":28,"y":14,"v":9},{"x":32,"y":14,"v":9},{"x":36,"y":14,"v":8},
{"x":0,"y":12,"v":7},{"x":4,"y":12,"v":7},{"x":8,"y":12,"v":8},{"x":12,"y":12,"v":9},{"x":16,"y":12,"v":10},{"x":20,"y":12,"v":10},{"x":24,"y":12,"v":11},{"x":28,"y":12,"v":11},{"x":32,"y":12,"v":10},{"x":36,"y":12,"v":9},
{"x":0,"y":10,"v":7},{"x":4,"y":10,"v":8},{"x":8,"y":10,"v":9},{"x":12,"y":10,"v":10},{"x":16,"y":10,"v":11},{"x":20,"y":10,"v":12},{"x":24,"y":10,"v":13},{"x":28,"y":10,"v":13},{"x":32,"y":10,"v":12},{"x":36,"y":10,"v":10},
{"x":0,"y":8,"v":7},{"x":4,"y":8,"v":8},{"x":8,"y":8,"v":10},{"x":12,"y":8,"v":11},{"x":16,"y":8,"v":13},{"x":20,"y":8,"v":14},{"x":24,"y":8,"v":15},{"x":28,"y":8,"v":15},{"x":32,"y":8,"v":14},{"x":36,"y":8,"v":11},
{"x":0,"y":6,"v":8},{"x":4,"y":6,"v":9},{"x":8,"y":6,"v":11},{"x":12,"y":6,"v":13},{"x":16,"y":6,"v":15},{"x":20,"y":6,"v":17},{"x":24,"y":6,"v":18},{"x":28,"y":6,"v":18},{"x":32,"y":6,"v":16},{"x":36,"y":6,"v":12},
{"x":0,"y":4,"v":8},{"x":4,"y":4,"v":10},{"x":8,"y":4,"v":13},{"x":12,"y":4,"v":16},{"x":16,"y":4,"v":18},{"x":20,"y":4,"v":21},{"x":24,"y":4,"v":23},{"x":28,"y":4,"v":22},{"x":32,"y":4,"v":19},{"x":36,"y":4,"v":13},
{"x":0,"y":3,"v":10},{"x":2,"y":3,"v":12},{"x":4,"y":3,"v":14},{"x":6,"y":3,"v":38},{"x":8,"y":3,"v":50},{"x":10,"y":3,"v":58},{"x":12,"y":3,"v":58},{"x":14,"y":3,"v":56},{"x":16,"y":3,"v":40},{"x":18,"y":3,"v":21},{"x":20,"y":3,"v":23},{"x":22,"y":3,"v":25},{"x":24,"y":3,"v":25},{"x":26,"y":3,"v":25},{"x":28,"y":3,"v":25},{"x":30,"y":3,"v":24},{"x":32,"y":3,"v":22},{"x":34,"y":3,"v":19},{"x":36,"y":3,"v":15},{"x":38,"y":3,"v":11},
{"x":0,"y":2,"v":22},{"x":2,"y":2,"v":30},{"x":4,"y":2,"v":50},{"x":6,"y":2,"v":56},{"x":8,"y":2,"v":60},{"x":10,"y":2,"v":62},{"x":12,"y":2,"v":62},{"x":14,"y":2,"v":61},{"x":16,"y":2,"v":58},{"x":18,"y":2,"v":38},{"x":20,"y":2,"v":27},{"x":22,"y":2,"v":28},{"x":24,"y":2,"v":28},{"x":26,"y":2,"v":28},{"x":28,"y":2,"v":27},{"x":30,"y":2,"v":26},{"x":32,"y":2,"v":24},{"x":34,"y":2,"v":20},{"x":36,"y":2,"v":15},{"x":38,"y":2,"v":11},
{"x":0,"y":1,"v":30},{"x":2,"y":1,"v":48},{"x":4,"y":1,"v":58},{"x":6,"y":1,"v":62},{"x":8,"y":1,"v":64},{"x":10,"y":1,"v":66},{"x":12,"y":1,"v":66},{"x":14,"y":1,"v":66},{"x":16,"y":1,"v":65},{"x":18,"y":1,"v":60},{"x":20,"y":1,"v":30},{"x":22,"y":1,"v":31},{"x":24,"y":1,"v":31},{"x":26,"y":1,"v":30},{"x":28,"y":1,"v":29},{"x":30,"y":1,"v":27},{"x":32,"y":1,"v":24},{"x":34,"y":1,"v":20},{"x":36,"y":1,"v":15},{"x":38,"y":1,"v":11},
{"x":0,"y":0,"v":40},{"x":2,"y":0,"v":55},{"x":4,"y":0,"v":61},{"x":6,"y":0,"v":64},{"x":8,"y":0,"v":66},{"x":10,"y":0,"v":68},{"x":12,"y":0,"v":69},{"x":14,"y":0,"v":70},{"x":16,"y":0,"v":68},{"x":18,"y":0,"v":63},{"x":20,"y":0,"v":32},{"x":22,"y":0,"v":33},{"x":24,"y":0,"v":33},{"x":26,"y":0,"v":32},{"x":28,"y":0,"v":30},{"x":30,"y":0,"v":28},{"x":32,"y":0,"v":25},{"x":34,"y":0,"v":20},{"x":36,"y":0,"v":15},{"x":38,"y":0,"v":11},
{"k":"t","x":-6.8,"y":19.8,"t":"F"},{"k":"c","x":19.7,"y":21.3,"t":"Amplitude of I"},{"k":"t","x":17.8,"y":-3.2,"t":"w"},{"k":"s","x":20.6,"y":-3.8,"t":"GE"},{"k":"r","x":-7.4,"y":9.2,"t":"w"},{"k":"q","x":-6.5,"y":10.2,"t":"GI"}
]},"encoding":{"x":{"field":"x","type":"quantitative","scale":{"domain":[-2.15,40],"nice":false},"axis":{"values":[0,10,20,30,40]}},"y":{"field":"y","type":"quantitative","scale":{"domain":[0,20],"nice":false},"axis":{"values":[0,5,10,15,20],"offset":-7}}},
"layer":[
{"transform":[{"filter":"datum.v"},{"calculate":"datum.y<4?min(datum.x+2.1,40):min(datum.x+4.1,40)","as":"x2"},{"calculate":"datum.y<4?datum.y+1.05:min(datum.y+2.05,20)","as":"y2"}],"mark":{"type":"rect"},"encoding":{"x2":{"field":"x2"},"y2":{"field":"y2"},"color":{"field":"v","type":"quantitative","scale":{"domain":[0,8.79,17.58,26.36,35.15,43.94,52.73,61.51,70.3],"range":["#00007f","#0000ff","#007fff","#00ffff","#7fff7f","#ffff00","#ff7f00","#ff0000","#7f0000"]},"legend":{"type":"gradient","legendX":143,"legendY":3,"gradientLength":121,"gradientThickness":17,"values":[0,20,40,60]}}}},
{"transform":[{"filter":"datum.k=='b'"}],"mark":{"type":"rect","filled":false,"stroke":"#777"},"encoding":{"x2":{"field":"x2"},"y2":{"field":"y2"}}},
{"transform":[{"filter":"datum.k=='t'"}],"mark":{"type":"text","fontSize":10,"color":"#222"},"encoding":{"text":{"field":"t"}}},
{"transform":[{"filter":"datum.k=='c'"}],"mark":{"type":"text","fontSize":10,"color":"#f0922a"},"encoding":{"text":{"field":"t"}}},
{"transform":[{"filter":"datum.k=='s'"}],"mark":{"type":"text","fontSize":6.5,"color":"#777"},"encoding":{"text":{"field":"t"}}},
{"transform":[{"filter":"datum.k=='r'"}],"mark":{"type":"text","fontSize":10,"color":"#222","angle":270},"encoding":{"text":{"field":"t"}}},
{"transform":[{"filter":"datum.k=='q'"}],"mark":{"type":"text","fontSize":6.5,"color":"#777","angle":270},"encoding":{"text":{"field":"t"}}}
]}
]}
